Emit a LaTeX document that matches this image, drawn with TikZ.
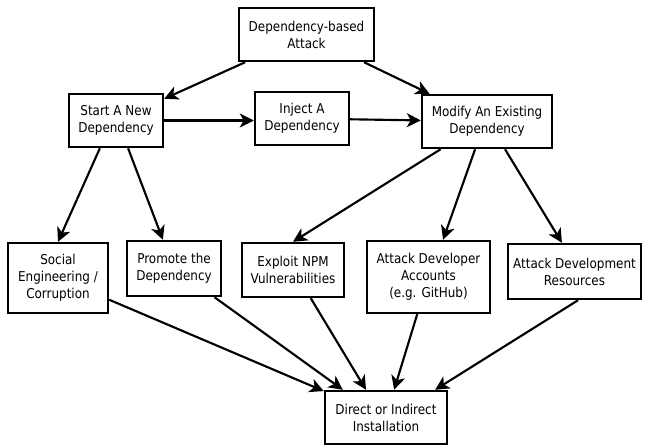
\documentclass[tikz,border=0pt]{standalone}
\usepackage{fontspec}
\setmainfont[FakeStretch=0.88]{DejaVu Sans}
\usetikzlibrary{arrows.meta,calc}
\begin{document}
\begin{tikzpicture}[x=0.75pt,y=-0.75pt,
  box/.style={draw,line width=1.6pt,inner sep=0pt,align=center,
    font=\fontsize{10.2pt}{12.75pt}\selectfont},
  arr/.style={line width=1.6pt,-{Stealth[length=10.5pt,width=10.5pt,inset=3pt]}}]
\useasboundingbox (0,0) rectangle (645,446);
\node[box,minimum width=101.5pt,minimum height=40pt] (top) at (306.5,34.5) {Dependency-based\\Attack};
\node[box,minimum width=70.75pt,minimum height=40pt] (start) at (116,120.5) {Start A New\\Dependency};
\node[box,minimum width=70.75pt,minimum height=40pt] (inject) at (302,118.5) {Inject A\\Dependency};
\node[box,minimum width=97.75pt,minimum height=40pt] (modify) at (487,121.5) {Modify An Existing\\Dependency};
\node[box,minimum width=75.25pt,minimum height=52.75pt] (social) at (58,278) {Social\\Engineering /\\Corruption};
\node[box,minimum width=70.75pt,minimum height=41.5pt] (promote) at (174,268.5) {Promote the\\Dependency};
\node[box,minimum width=76.75pt,minimum height=40.75pt] (exploit) at (293,270) {Exploit NPM\\Vulnerabilities};
\node[box,minimum width=92.5pt,minimum height=54.25pt] (accounts) at (428.5,277) {Attack Developer\\Accounts\\(e.g. GitHub)};
\node[box,minimum width=100pt,minimum height=41.5pt] (resources) at (574.5,271.5) {Attack Development\\Resources};
\node[box,minimum width=91.75pt,minimum height=40pt] (direct) at (386,417.5) {Direct or Indirect\\Installation};

\draw[arr] (top) -- (start);
\draw[arr] (top) -- (modify);
\draw[arr] (start.east) -- (inject.west |- start.east);
\draw[arr] (inject) -- (modify);
\draw[arr] ($(start.south west)!0.333!(start.south east)$) -- (social.north);
\draw[arr] ($(start.south west)!0.625!(start.south east)$) -- ($(promote.north west)!0.385!(promote.north east)$);
\draw[arr] ($(modify.south west)!0.15!(modify.south east)$) -- (exploit.north);
\draw[arr] ($(modify.south west)!0.41!(modify.south east)$) -- ($(accounts.north west)!0.616!(accounts.north east)$);
\draw[arr] ($(modify.south west)!0.636!(modify.south east)$) -- ($(resources.north west)!0.407!(resources.north east)$);
\draw[arr] (social) -- (direct);
\draw[arr] ($(promote.south west)!0.92!(promote.south east)$) -- ($(direct.north west)!0.153!(direct.north east)$);
\draw[arr] ($(exploit.south west)!0.67!(exploit.south east)$) -- ($(direct.north west)!0.339!(direct.north east)$);
\draw[arr] ($(accounts.south west)!0.41!(accounts.south east)$) -- ($(direct.north west)!0.565!(direct.north east)$);
\draw[arr] ($(resources.south west)!0.526!(resources.south east)$) -- ($(direct.north west)!0.895!(direct.north east)$);
\end{tikzpicture}
\end{document}
